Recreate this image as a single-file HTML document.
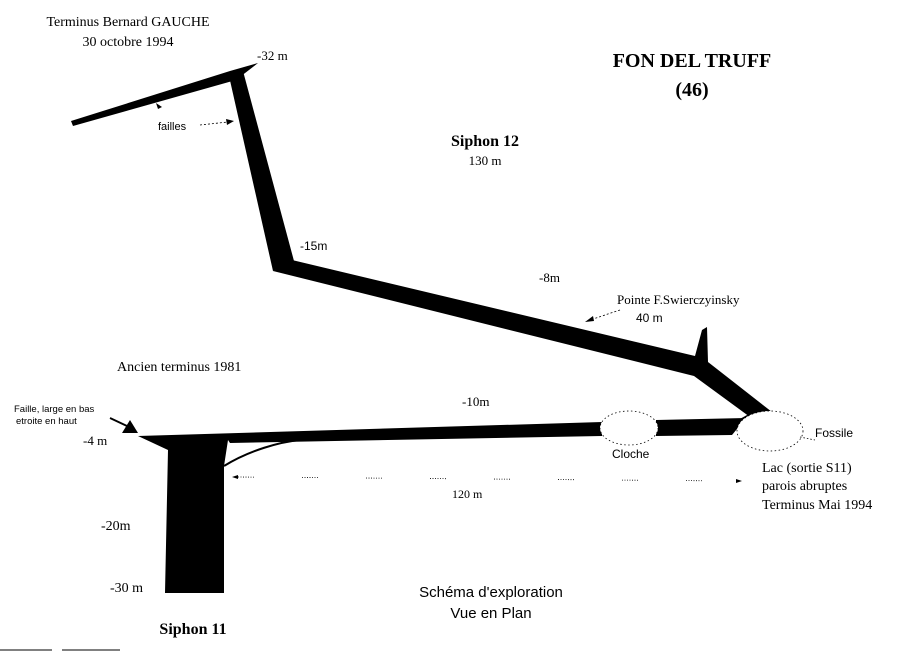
<!DOCTYPE html>
<html><head><meta charset="utf-8"><style>
html,body{margin:0;padding:0;background:#fff;}
svg{display:block;}
.s{font-family:"Liberation Serif",serif;fill:#000;}
.a{font-family:"Liberation Sans",sans-serif;fill:#000;}
</style></head><body>
<svg width="900" height="652" viewBox="0 0 900 652" xmlns="http://www.w3.org/2000/svg">
<!-- upper terminus passage -->
<polygon points="71,121 230,71 258,63 236,80 73,126" fill="#000"/>
<!-- descent -->
<polygon points="229,76 243,71 294,261 273,271" fill="#000"/>
<!-- long passage -->
<polygon points="273,271 292,260 695,356 702,330 707,327 708,362 772,412 750,417 694,376" fill="#000"/>
<!-- lower passage -->
<polygon points="138,436 602,422 602,436 230,443 228,440 224,466 224,593 165,593 168,450" fill="#000"/>
<path d="M224,466 C250,450 280,442 300,440" stroke="#000" stroke-width="2" fill="none"/>
<polygon points="656,420 746,418 732,435 656,436" fill="#000"/>
<polygon points="738,420 756,410 748,420" fill="#000"/>
<!-- cloche -->
<ellipse cx="629" cy="428" rx="29" ry="17" fill="#fff" stroke="#000" stroke-width="0.8" stroke-dasharray="1.5,2.5"/>
<!-- lac -->
<ellipse cx="770" cy="431" rx="33" ry="20" fill="#fff" stroke="#000" stroke-width="0.8" stroke-dasharray="1.5,2.5"/>
<line x1="800" y1="437" x2="815" y2="440" stroke="#000" stroke-width="0.8" stroke-dasharray="1.5,2"/>
<!-- 120m dotted line -->
<line x1="238" y1="477" x2="735" y2="481" stroke="#000" stroke-width="0.8" stroke-dasharray="1,1.5,1,1.5,1,1.5,1,1.5,1,1.5,1,1.5,1,48"/>
<polygon points="232,477 238,475 238,479" fill="#000"/>
<polygon points="742,481 736,479 736,483" fill="#000"/>
<!-- faille arrows -->
<polygon points="122,433 130,420 138,433" fill="#000"/>
<line x1="110" y1="418" x2="127" y2="426" stroke="#000" stroke-width="1.8"/>
<polygon points="156,103 162,107 158,109" fill="#000"/>
<line x1="200" y1="125" x2="228" y2="122" stroke="#000" stroke-width="0.8" stroke-dasharray="2,2"/>
<polygon points="234,121 226,119 227,125" fill="#000"/>
<line x1="620" y1="310" x2="590" y2="320" stroke="#000" stroke-width="0.8" stroke-dasharray="2,2"/>
<polygon points="585,322 593,316 594,321" fill="#000"/>
<!-- texts -->
<text x="128" y="26" class="s" font-size="14" text-anchor="middle">Terminus Bernard GAUCHE</text>
<text x="128" y="46" class="s" font-size="14" text-anchor="middle">30 octobre 1994</text>
<text x="257" y="60" class="s" font-size="13">-32 m</text>
<text x="158" y="130" class="a" font-size="11">failles</text>
<text x="300" y="250" class="a" font-size="12">-15m</text>
<text x="539" y="282" class="s" font-size="13">-8m</text>
<text x="617" y="304" class="s" font-size="13">Pointe F.Swierczyinsky</text>
<text x="636" y="322" class="a" font-size="12">40 m</text>
<text x="692" y="67" class="s" font-size="20" font-weight="bold" text-anchor="middle">FON DEL TRUFF</text>
<text x="692" y="96" class="s" font-size="20" font-weight="bold" text-anchor="middle">(46)</text>
<text x="485" y="146" class="s" font-size="16" font-weight="bold" text-anchor="middle">Siphon 12</text>
<text x="485" y="165" class="s" font-size="13" text-anchor="middle">130 m</text>
<text x="117" y="371" class="s" font-size="14">Ancien terminus 1981</text>
<text x="462" y="406" class="s" font-size="13">-10m</text>
<text x="14" y="412" class="a" font-size="9.5">Faille, large en bas</text>
<text x="16" y="424" class="a" font-size="9.5">etroite en haut</text>
<text x="83" y="445" class="s" font-size="13">-4 m</text>
<text x="612" y="458" class="a" font-size="12">Cloche</text>
<text x="815" y="437" class="a" font-size="12">Fossile</text>
<text x="762" y="472" class="s" font-size="14">Lac (sortie S11)</text>
<text x="762" y="490" class="s" font-size="14">parois abruptes</text>
<text x="762" y="509" class="s" font-size="14">Terminus Mai 1994</text>
<text x="452" y="498" class="s" font-size="12">120 m</text>
<text x="101" y="530" class="s" font-size="14">-20m</text>
<text x="110" y="592" class="s" font-size="14">-30 m</text>
<text x="193" y="634" class="s" font-size="16" font-weight="bold" text-anchor="middle">Siphon 11</text>
<text x="491" y="597" class="a" font-size="15" text-anchor="middle">Schéma d'exploration</text>
<text x="491" y="618" class="a" font-size="15" text-anchor="middle">Vue en Plan</text>
<line x1="0" y1="650" x2="52" y2="650" stroke="#000" stroke-width="1"/>
<line x1="62" y1="650" x2="120" y2="650" stroke="#000" stroke-width="1"/>
</svg>
</body></html>
